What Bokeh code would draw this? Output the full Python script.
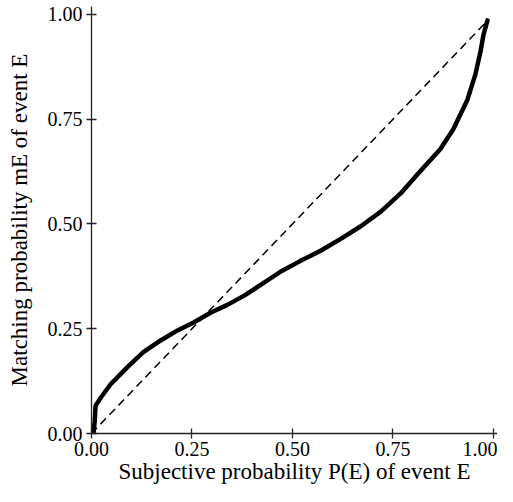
from bokeh.plotting import figure
from bokeh.models import Range1d, FixedTicker, PrintfTickFormatter
from bokeh.embed import file_html
from bokeh.resources import INLINE

# ---- data ----
p_subjective = [0.005, 0.008, 0.010, 0.022, 0.047, 0.090, 0.129, 0.172, 0.214,
                0.254, 0.296, 0.338, 0.380, 0.420, 0.470, 0.520, 0.570, 0.619,
                0.669, 0.719, 0.769, 0.815, 0.868, 0.900, 0.935, 0.955, 0.968,
                0.975, 0.985]
m_matching = [0.000, 0.030, 0.066, 0.084, 0.117, 0.159, 0.194, 0.222, 0.246,
              0.265, 0.288, 0.307, 0.329, 0.354, 0.386, 0.412, 0.436, 0.464,
              0.494, 0.529, 0.573, 0.623, 0.679, 0.726, 0.796, 0.857, 0.913,
              0.951, 0.986]
diag_x = [0.0, 0.985]
diag_y = [0.0, 0.985]
tick_values = [0.0, 0.25, 0.5, 0.75, 1.0]
x_title = "Subjective probability P(E) of event E"
y_title = "Matching probability mE of event E"

# ---- layout ----
FONT = "Liberation Serif"

p = figure(width=497, height=486,
           min_border_left=91, min_border_bottom=52,
           min_border_top=6, min_border_right=0,
           x_range=Range1d(0, 1.01), y_range=Range1d(0, 1.019),
           output_backend="svg", toolbar_location=None)
p.outline_line_color = None
p.grid.visible = False
p.background_fill_color = "white"

for ax in (p.xaxis[0], p.yaxis[0]):
    ax.ticker = FixedTicker(ticks=tick_values)
    ax.formatter = PrintfTickFormatter(format="%.2f")
    ax.minor_tick_line_color = None
    ax.major_tick_in = 5
    ax.major_tick_out = 5
    ax.axis_line_width = 1.3
    ax.axis_line_color = "#222222"
    ax.major_tick_line_width = 1.3
    ax.major_tick_line_color = "#222222"
    ax.major_label_text_font = FONT
    ax.major_label_text_font_size = "20px"
    ax.major_label_text_color = "black"
    ax.axis_label_text_font = FONT
    ax.axis_label_text_font_size = "23px"
    ax.axis_label_text_font_style = "normal"
    ax.axis_label_text_color = "black"

p.xaxis.major_label_standoff = 3
p.yaxis.major_label_standoff = 4
p.xaxis.axis_label = x_title
p.yaxis.axis_label = y_title
p.xaxis.axis_label_standoff = 0
p.yaxis.axis_label_standoff = 13

p.line(diag_x, diag_y, line_color="black", line_width=1.5, line_dash="8 5")
p.line(p_subjective, m_matching, line_color="black", line_width=4.5,
       line_join="round", line_cap="round")

open("out.html", "w").write(file_html(p, INLINE))
